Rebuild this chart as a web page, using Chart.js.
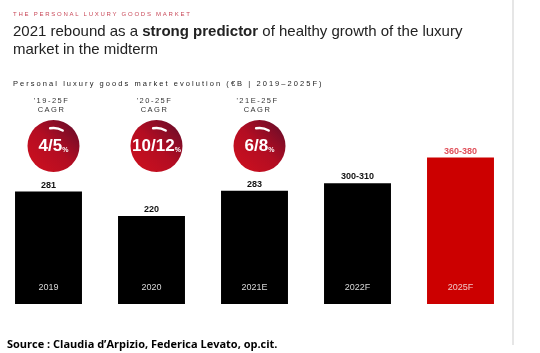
<!DOCTYPE html>
<html>
<head>
<meta charset="utf-8">
<script src="https://cdn.jsdelivr.net/npm/chart.js@4.4.1/dist/chart.umd.min.js"></script>
<style>
  html, body { margin:0; padding:0; background:#fff; width:540px; height:353px; overflow:hidden; }
  #wrap { position:relative; width:540px; height:353px; }
  #c { position:absolute; left:-3px; top:0; }
  .kicker { position:absolute; left:13px; top:11px; font:6px "Liberation Sans", Arial, sans-serif; letter-spacing:1.75px; color:#c84858; white-space:nowrap; }
  .headline { position:absolute; left:13px; top:22px; font:15px/18px "Liberation Sans", Arial, sans-serif; color:#222; width:480px; }
  .sub { position:absolute; left:13px; top:79px; font:7.5px "Liberation Sans", Arial, sans-serif; letter-spacing:2.05px; color:#222; white-space:nowrap; }
  .rule { position:absolute; left:512px; top:0; width:2px; height:345px; background:#e6e6e6; }
  .source { position:absolute; left:7px; top:336px; font:bold 11px "Open Sans", "Liberation Sans", sans-serif; color:#000; white-space:nowrap; }
</style>
</head>
<body>
<div id="wrap">
  <canvas id="c" width="515" height="353"></canvas>
  <div class="kicker">THE PERSONAL LUXURY GOODS MARKET</div>
  <div class="headline">2021 rebound as a <b>strong predictor</b> of healthy growth of the luxury market in the midterm</div>
  <div class="sub">Personal luxury goods market evolution (€B | 2019–2025F)</div>
  <div class="rule"></div>
  <div class="source">Source : Claudia d’Arpizio, Federica Levato, op.cit.</div>
</div>
<script>
// Data
const categories = ["2019", "2020", "2021E", "2022F", "2025F"];
const marketValues = [281, 220, 283, 302, 366];          // bar heights (€B)
const valueLabels = ["281", "220", "283", "300-310", "360-380"];
const cagrPeriods = ["'19-25F", "'20-25F", "'21E-25F"];
const cagrValues = ["4/5", "10/12", "6/8"];
const barColors = ["#000000", "#000000", "#000000", "#000000", "#cc0000"];

const overlayPlugin = {
  id: 'overlay',
  afterDatasetsDraw(chart) {
    const ctx = chart.ctx;
    const meta = chart.getDatasetMeta(0);
    const xs = chart.scales.x;
    ctx.save();
    meta.data.forEach((bar, i) => {
      const x = bar.x;
      ctx.textAlign = 'center';
      ctx.textBaseline = 'alphabetic';
      ctx.font = 'bold 9px "Liberation Sans", Arial, sans-serif';
      ctx.fillStyle = i === 4 ? '#e0505a' : '#111';
      ctx.fillText(valueLabels[i], x, bar.y - 4);
      ctx.font = '9px "Liberation Sans", Arial, sans-serif';
      ctx.fillStyle = i === 4 ? '#f0c8c8' : '#d8d8d8';
      ctx.textBaseline = 'middle';
      ctx.fillText(categories[i], x, chart.scales.y.getPixelForValue(0) - 16);
    });
    cagrValues.forEach((v, i) => {
      const cx = xs.getPixelForValue(i) + 5;
      const cy = 146;
      const r = 26;
      ctx.textAlign = 'center';
      ctx.textBaseline = 'middle';
      ctx.fillStyle = '#333';
      ctx.font = '7.5px "Liberation Sans", Arial, sans-serif';
      if (ctx.letterSpacing !== undefined) ctx.letterSpacing = '1.5px';
      ctx.fillText(cagrPeriods[i], cx - 2, 101);
      ctx.fillText('CAGR', cx - 2, 110);
      if (ctx.letterSpacing !== undefined) ctx.letterSpacing = '0px';
      const g = ctx.createLinearGradient(cx - r, cy + r, cx + r, cy - r);
      g.addColorStop(0, '#d0101e');
      g.addColorStop(0.5, '#b30d22');
      g.addColorStop(1, '#5e0c2a');
      ctx.beginPath();
      ctx.arc(cx, cy, r, 0, Math.PI * 2);
      ctx.fillStyle = g;
      ctx.fill();
      ctx.beginPath();
      ctx.arc(cx, cy, r - 8, -Math.PI * 0.56, -Math.PI * 0.33);
      ctx.strokeStyle = '#ffffff';
      ctx.lineWidth = 2.5;
      ctx.lineCap = 'round';
      ctx.stroke();
      ctx.fillStyle = '#fff';
      const big = 'bold 17px "Liberation Sans Narrow", "Liberation Sans", Arial, sans-serif';
      const small = 'bold 7px "Liberation Sans", Arial, sans-serif';
      ctx.font = big;
      const w1 = ctx.measureText(v).width;
      ctx.font = small;
      const w2 = ctx.measureText('%').width;
      const start = cx - (w1 + w2) / 2;
      ctx.textAlign = 'left';
      ctx.font = big;
      ctx.fillText(v, start, cy);
      ctx.font = small;
      ctx.fillText('%', start + w1, cy + 4);
    });
    ctx.restore();
  }
};

new Chart(document.getElementById('c'), {
  type: 'bar',
  data: {
    labels: categories,
    datasets: [{
      data: marketValues,
      backgroundColor: barColors,
      borderWidth: 0,
      categoryPercentage: 0.65,
      barPercentage: 1.0
    }]
  },
  options: {
    responsive: false,
    animation: false,
    devicePixelRatio: 1,
    layout: { padding: { left: 0, right: 0, top: 144, bottom: 49 } },
    plugins: { legend: { display: false }, tooltip: { enabled: false } },
    scales: {
      x: { display: false },
      y: { display: false, min: 0, max: 400 }
    }
  },
  plugins: [overlayPlugin]
});
</script>
</body>
</html>
